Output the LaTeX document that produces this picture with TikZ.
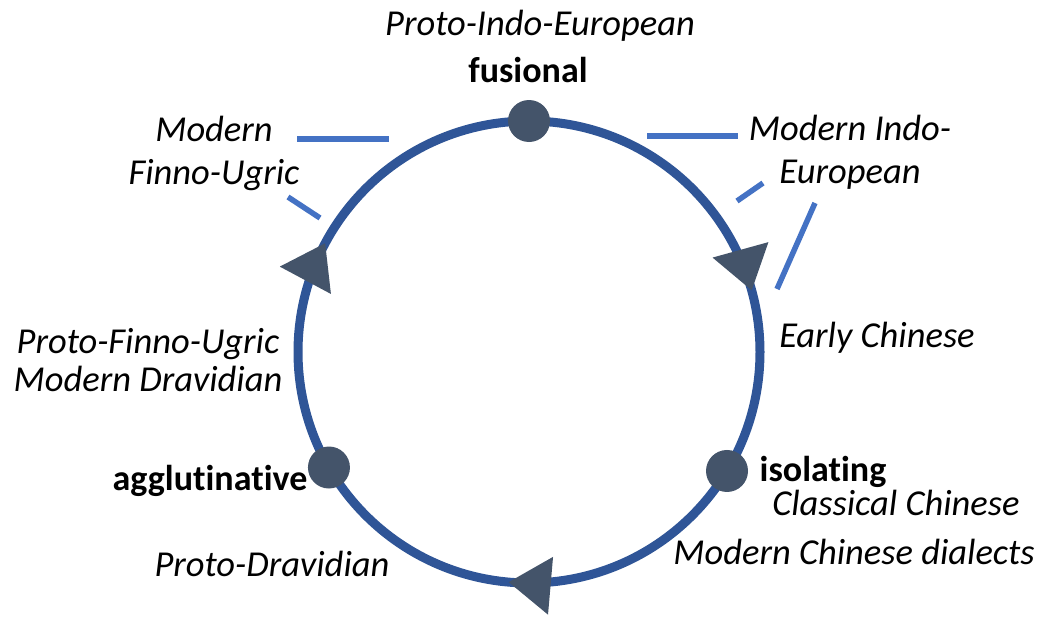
\documentclass[tikz,border=0pt]{standalone}
\usepackage{fontspec}
\setmainfont{Carlito}[Ligatures=NoCommon]
\usepackage{xcolor}
\usetikzlibrary{calc,arrows.meta,decorations.markings}

\definecolor{ringblue}{HTML}{2F5597}
\definecolor{dotgray}{HTML}{44546A}
\definecolor{leadblue}{HTML}{4472C4}

\begin{document}
\begin{tikzpicture}[x=1pt, y=1pt,
	every node/.style={inner sep=0pt, text=black},
	lang/.style={font=\fontsize{36.5}{43}\selectfont\itshape, align=center},
	type/.style={font=\fontsize{36}{43}\selectfont\bfseries},
	dot/.style={circle, fill=dotgray, minimum size=42pt},
	lead/.style={leadblue, line width=5.5pt},
	cycletip/.tip={Triangle[length=42pt, width=58pt, line width=0pt, color=dotgray]},
	ring/.style={ringblue, line width=9pt, postaction={decorate},
		decoration={markings,
			mark=at position 0.207 with {\arrow{cycletip}},
			mark=at position 0.514 with {\arrow{cycletip}},
			mark=at position 0.828 with {\arrow{cycletip}}}}]

	\useasboundingbox (0,0) rectangle (1044,-621);

	% the cycle, clockwise from the top
	\coordinate (c) at (529,-352);
	\draw[ring] ($(c)+(90:231pt)$) arc[start angle=90, end angle=-270, radius=231pt];

	\node[dot] (fusDot) at ($(c)+(90:231pt)$) {};
	\node[dot] (isoDot) at ($(c)+(-31:231pt)$) {};
	\node[dot] (aggDot) at ($(c)+(-150:231pt)$) {};

	% morphological types
	\node[type] (fus) at (528,-70) {fusional};
	\node[type] (iso) at (823,-472) {isolating};
	\node[type] (agg) at (210,-481) {agglutinative};

	% languages
	\node[lang] (pie) at (540,-26) {Proto-Indo-European};
	\node[lang] (mie) at (850,-152) {Modern Indo-\\European};
	\node[lang] (ech) at (877,-338) {Early Chinese};
	\node[lang] (cch) at (896,-503) {Classical Chinese};
	\node[lang] (mcd) at (854,-552) {Modern Chinese dialects};
	\node[lang] (pdr) at (272,-564) {Proto-Dravidian};
	\node[lang, font=\fontsize{36.5}{38}\selectfont\itshape] (pfu) at (148,-360) {Proto-Finno-Ugric\\Modern Dravidian};
	\node[lang] (mfu) at (214,-153) {Modern\\Finno-Ugric};

	% little strokes beside the labels
	\draw[lead] (297,-139) -- (389,-139);
	\draw[lead] (288,-197) -- (320,-218);
	\draw[lead] (647,-136) -- (738,-136);
	\draw[lead] (737,-201) -- (763,-183);
	\draw[lead] (815,-203) -- (777,-289);
\end{tikzpicture}
\end{document}
